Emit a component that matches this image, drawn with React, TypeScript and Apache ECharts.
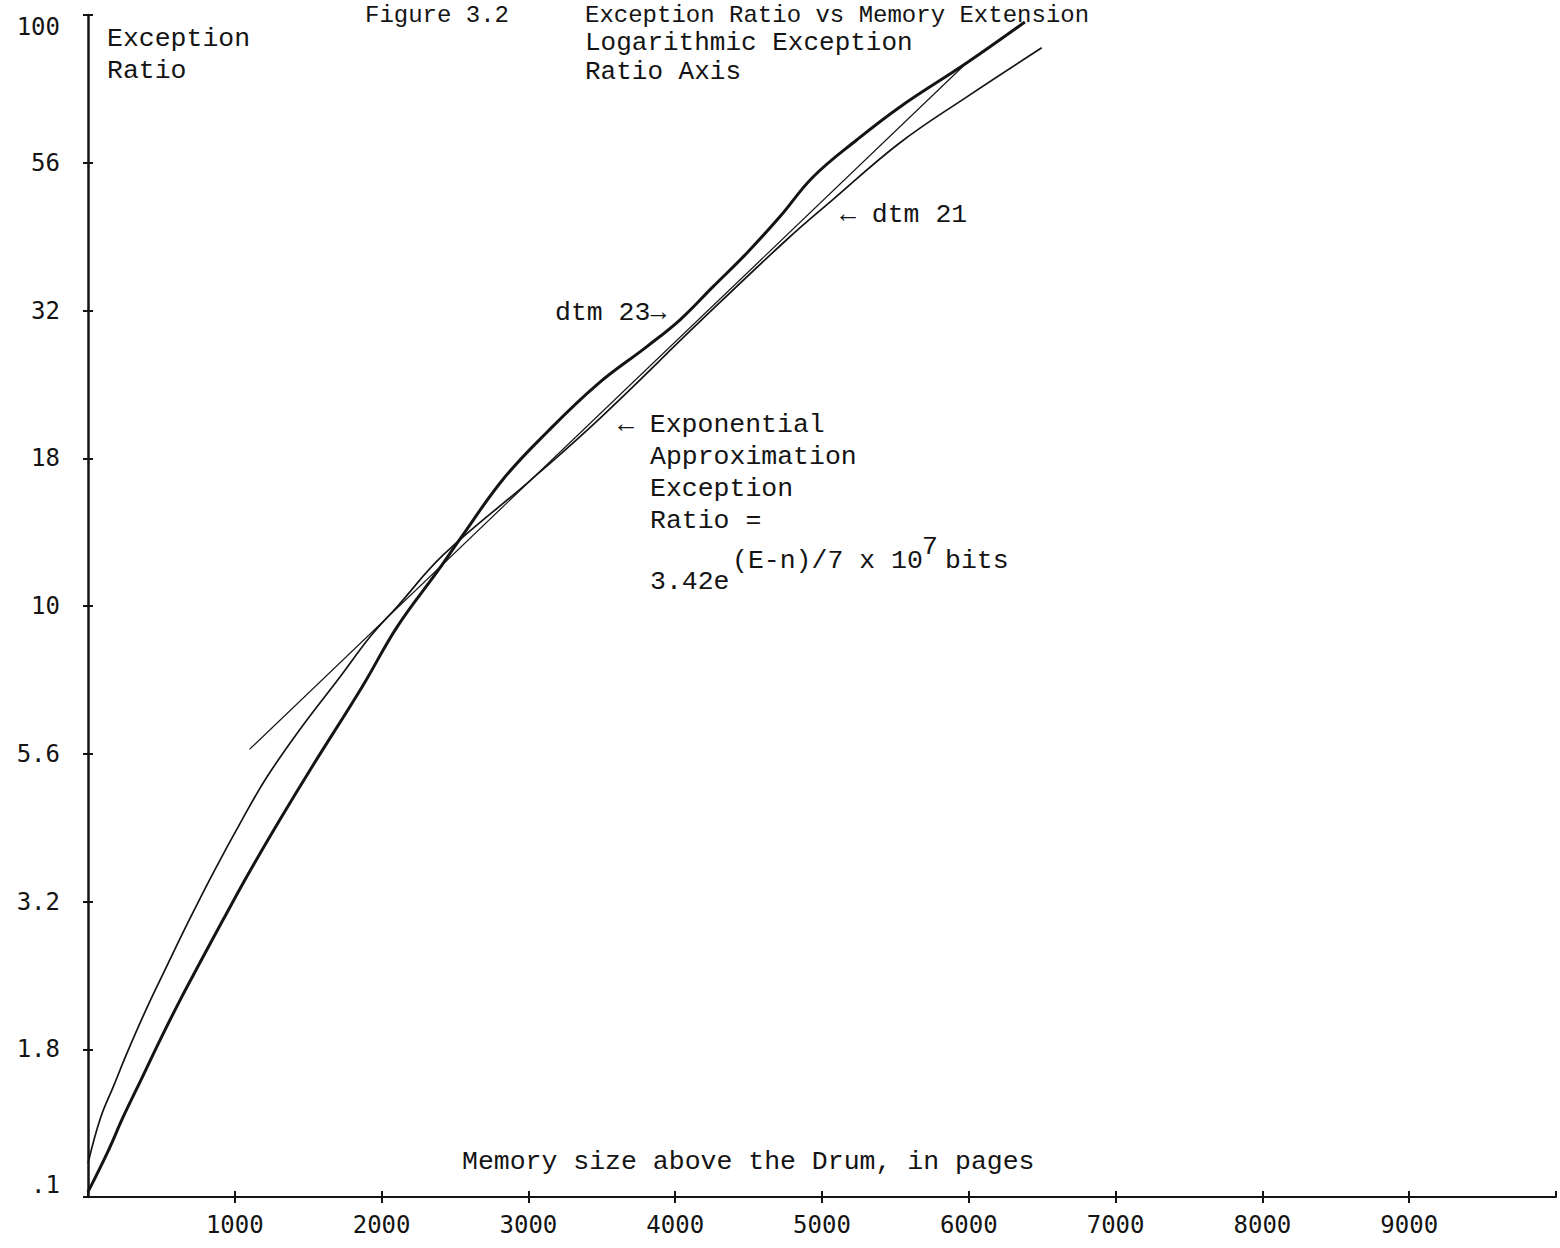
import React, { useEffect, useRef } from 'react';
import * as echarts from 'echarts';

// Y axis: logarithmic exception ratio, ticks every quarter decade
const yTickLabels = ['.1', '1.8', '3.2', '5.6', '10', '18', '32', '56', '100'];

// dtm 23 (heavy curve)
const dtm23Pages = [0, 133, 242, 357, 494, 630, 766, 922, 1086, 1310, 1515, 1869, 2107, 2386, 2536, 2829, 3128, 3468, 3809, 4033, 4258, 4490, 4714, 4939, 5238, 5531, 5987, 6382];
const dtm23Ratio = [1.02, 1.19, 1.37, 1.57, 1.85, 2.16, 2.5, 2.95, 3.5, 4.36, 5.29, 7.31, 9.23, 11.5, 13.0, 16.4, 19.7, 23.7, 27.5, 30.5, 34.7, 39.6, 45.6, 53.2, 61.5, 69.9, 83.0, 97.3];

// dtm 21 (light curve)
const dtm21Pages = [0, 85, 174, 269, 405, 541, 677, 854, 1052, 1222, 1447, 1719, 1923, 2107, 2420, 3012, 3489, 4169, 4761, 5074, 5531, 5987, 6497];
const dtm21Ratio = [1.14, 1.36, 1.54, 1.76, 2.1, 2.47, 2.9, 3.54, 4.36, 5.15, 6.2, 7.6, 8.88, 9.98, 12.2, 16.3, 20.8, 30.3, 41.7, 48.7, 60.8, 72.7, 88.0];

// Exponential approximation (straight line on the log axis)
const expPages = [1100, 5970];
const expRatio = [5.72, 82.3];

const toLogPairs = (pages: number[], ratios: number[]) =>
  pages.map((p, i) => [p, Math.log10(ratios[i])]);

const MONO = 'Liberation Mono';
const AXISFONT = 'DejaVu Sans Mono';
const INK = '#141414';

function txt(text: string, x: number, y: number, size = 26.5, family = MONO) {
  return {
    type: 'text',
    x,
    y,
    silent: true,
    style: {
      text,
      fill: INK,
      fontSize: size,
      fontFamily: family,
      textAlign: 'left',
      textVerticalAlign: 'middle',
      align: 'left',
      verticalAlign: 'middle',
    },
  };
}

export default function App() {
  const ref = useRef<HTMLDivElement>(null);

  useEffect(() => {
    if (!ref.current) return;
    const chart = echarts.init(ref.current, null, { renderer: 'svg' });
    const gridPos = { left: 88, right: 4, top: 15, bottom: 51, containLabel: false };

    chart.setOption({
      animation: false,
      backgroundColor: '#ffffff',
      grid: [gridPos, gridPos],
      xAxis: [
        {
          type: 'value',
          gridIndex: 0,
          min: 0,
          max: 10000,
          interval: 1000,
          splitLine: { show: false },
          axisLine: { show: true, lineStyle: { color: INK, width: 2 } },
          axisTick: { show: true, length: 6, lineStyle: { color: INK, width: 2 } },
          axisLabel: {
            show: true,
            showMinLabel: false,
            showMaxLabel: false,
            margin: 16,
            color: INK,
            fontFamily: AXISFONT,
            fontSize: 24,
            formatter: (v: number) => (v === 0 || v === 10000 ? '' : String(v)),
          },
        },
        {
          type: 'value',
          gridIndex: 1,
          min: 0,
          max: 10000,
          interval: 1000,
          splitLine: { show: false },
          axisLine: { show: false },
          axisTick: { show: true, inside: true, length: 6, lineStyle: { color: INK, width: 2 } },
          axisLabel: { show: false },
        },
      ],
      yAxis: [
        {
          type: 'value',
          gridIndex: 0,
          min: 0,
          max: 2,
          interval: 0.25,
          splitLine: { show: false },
          axisLine: { show: true, lineStyle: { color: INK, width: 2.5 } },
          axisTick: { show: true, length: 5, lineStyle: { color: INK, width: 2 } },
          axisLabel: {
            show: true,
            margin: 28,
            color: INK,
            fontFamily: AXISFONT,
            fontSize: 24,
            verticalAlignMinLabel: 'bottom',
            verticalAlignMaxLabel: 'top',
            formatter: (v: number) => yTickLabels[Math.round(v / 0.25)] ?? '',
          },
        },
        {
          type: 'value',
          gridIndex: 1,
          min: 0,
          max: 2,
          interval: 0.25,
          splitLine: { show: false },
          axisLine: { show: false },
          axisTick: { show: true, inside: true, length: 5, lineStyle: { color: INK, width: 2 } },
          axisLabel: { show: false },
        },
      ],
      series: [
        {
          name: 'dtm 23',
          type: 'line',
          xAxisIndex: 0,
          yAxisIndex: 0,
          data: toLogPairs(dtm23Pages, dtm23Ratio),
          showSymbol: false,
          smooth: 0.4,
          lineStyle: { color: INK, width: 3 },
        },
        {
          name: 'dtm 21',
          type: 'line',
          xAxisIndex: 0,
          yAxisIndex: 0,
          data: toLogPairs(dtm21Pages, dtm21Ratio),
          showSymbol: false,
          smooth: 0.4,
          lineStyle: { color: INK, width: 1.7 },
        },
        {
          name: 'Exponential Approximation',
          type: 'line',
          xAxisIndex: 0,
          yAxisIndex: 0,
          data: toLogPairs(expPages, expRatio),
          showSymbol: false,
          smooth: false,
          lineStyle: { color: INK, width: 1.2 },
        },
      ],
      graphic: [
        txt('Figure 3.2', 365, 15, 24),
        txt('Exception Ratio vs Memory Extension', 585, 15, 24),
        txt('Logarithmic Exception', 585, 43, 26),
        txt('Ratio Axis', 585, 72, 26),
        txt('Exception', 107, 39),
        txt('Ratio', 107, 71),
        txt('← dtm 21', 840, 215),
        txt('dtm 23→', 555, 313),
        txt('← Exponential', 618, 425),
        txt('Approximation', 650, 457),
        txt('Exception', 650, 489),
        txt('Ratio =', 650, 521),
        txt('3.42e', 650, 582),
        txt('(E-n)/7 x 10', 732, 561),
        txt('7', 922, 547),
        txt('bits', 945, 561),
        txt('Memory size above the Drum, in pages', 462, 1162, 26.5),
      ],
    });

    return () => {
      chart.dispose();
    };
  }, []);

  return (
    <div
      ref={ref}
      style={{ position: 'absolute', left: 0, top: 0, width: 1560, height: 1248, background: '#fff' }}
    />
  );
}
